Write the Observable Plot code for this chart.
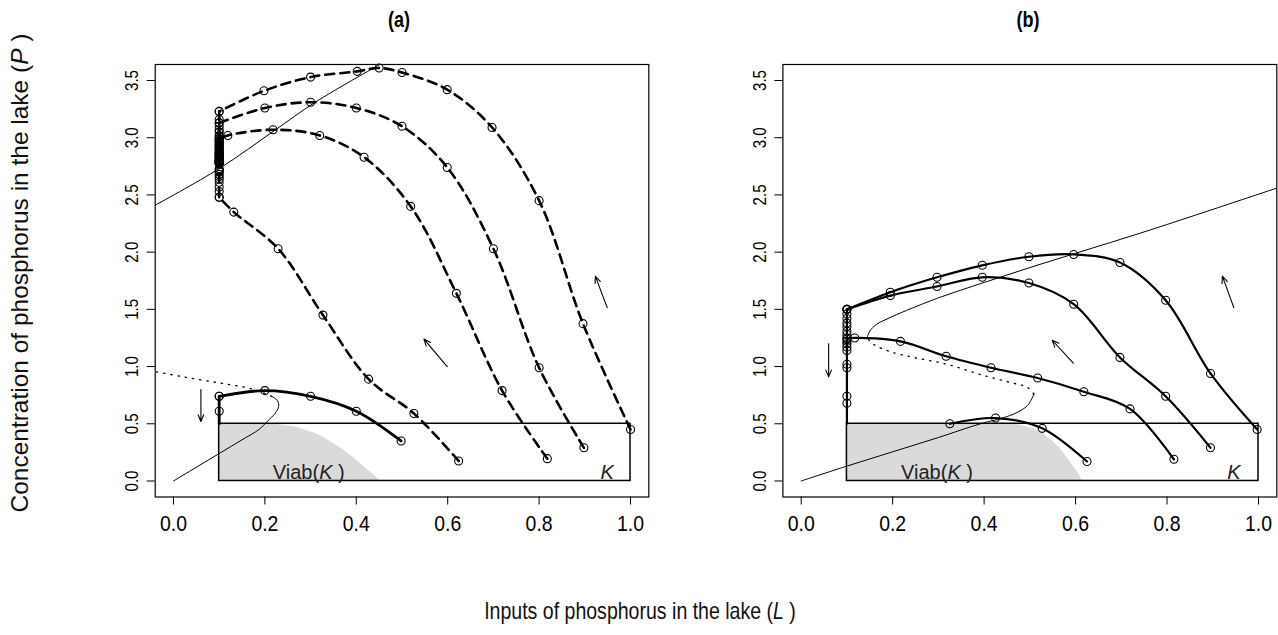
<!DOCTYPE html>
<html><head><meta charset="utf-8">
<script src="https://cdn.jsdelivr.net/npm/d3@7"></script>
<script src="https://cdn.jsdelivr.net/npm/@observablehq/plot@0.6"></script>
<style>
body{margin:0;background:#fff;}
#wrap{position:relative;width:1278px;height:635px;overflow:hidden;background:#fff;}
#wrap svg{position:absolute;top:0;max-width:none;}
</style></head><body><div id="wrap"></div>
<script>
// ---------------- shared texts & ticks ----------------
const panelTitles = ["(a)", "(b)"];
const xTicks = [0, 0.2, 0.4, 0.6, 0.8, 1.0];
const yTicks = [0, 0.5, 1.0, 1.5, 2.0, 2.5, 3.0, 3.5];
const xLabelParts = ["Inputs of phosphorus in the lake (", "L", " )"];
const yLabelParts = ["Concentration of phosphorus in the lake (", "P", " )"];
const boxK = [[0.1, 1.0, 0, 0.5]];           // L1, L2, P1, P2
const viabLabel = ["Viab(", "K", " )"];
const kLabel = "K";

// ---------------- panel (a) ----------------
const aViab = [[0.1,0.5],[0.2,0.5],[0.235,0.49],[0.27,0.47],[0.314,0.41],[0.345,0.34],[0.372,0.27],[0.395,0.20],[0.415,0.13],[0.435,0.065],[0.453,0]];
const aLowerBranch = [[0,0],[0.05,0.12],[0.1,0.24],[0.15,0.36],[0.187,0.45],[0.205,0.52],[0.222,0.59],[0.23,0.65],[0.228,0.70],[0.215,0.74]];
const aMiddleBranch = [[0.215,0.74],[0.19,0.78],[0.161,0.815],[0.096,0.86],[0.023,0.91],[-0.04,0.955]];
const aUpperBranch = [[-0.04,2.41],[0.1,2.73],[0.22,3.06],[0.31,3.31],[0.46,3.66]];
const aTraj1 = [[0.498,0.35],[0.40,0.61],[0.30,0.74],[0.20,0.79],[0.10,0.74]];
const aTraj1Down = [0.74,0.61];
const aTraj2 = [[0.624,0.175],[0.526,0.59],[0.427,0.89],[0.327,1.45],[0.229,2.03],[0.132,2.35],[0.10,2.48]];
const aTraj2Down = [2.48,2.53,2.57,2.61,2.64,2.66,2.68,2.70,2.71,2.72,2.73];
const aTraj3 = [[0.818,0.195],[0.719,0.79],[0.619,1.64],[0.519,2.40],[0.417,2.83],[0.32,3.02],[0.218,3.07],[0.119,3.02],[0.10,2.99]];
const aTraj3Down = [2.99,2.96,2.93,2.90,2.87,2.85,2.83,2.81,2.79,2.78];
const aTraj4 = [[0.898,0.29],[0.80,0.99],[0.70,2.03],[0.599,2.74],[0.50,3.10],[0.40,3.26],[0.30,3.31],[0.20,3.26],[0.10,3.13]];
const aTraj4Down = [3.13,3.07,3.02,2.98,2.95,2.92,2.89,2.87,2.85,2.83,2.81,2.80,2.79,2.78];
const aTraj5 = [[1.0,0.45],[0.896,1.375],[0.80,2.45],[0.697,3.09],[0.599,3.42],[0.50,3.57],[0.45,3.61],[0.402,3.58],[0.30,3.53],[0.198,3.41],[0.10,3.23]];
const aTraj5Down = [3.23,3.16,3.10,3.05,3.01,2.97,2.94,2.91,2.88,2.86,2.84,2.82,2.80,2.79,2.78,2.77];
const aArrows = [[0.06,0.80,0.06,0.52],[0.599,1.0,0.548,1.24],[0.949,1.515,0.923,1.79]];
const aViabPos = [0.296, 0.07];
const aKPos = [0.949, 0.07];

// ---------------- panel (b) ----------------
const bViab = [[0.1,0.5],[0.44,0.5],[0.475,0.49],[0.505,0.46],[0.53,0.41],[0.55,0.35],[0.567,0.28],[0.582,0.20],[0.597,0.12],[0.607,0.06],[0.614,0]];
const bLowerBranch = [[0,0],[0.1,0.13],[0.2,0.255],[0.3,0.38],[0.392,0.50],[0.44,0.55],[0.47,0.595],[0.495,0.66],[0.509,0.76]];
const bMiddleBranch = [[0.509,0.76],[0.494,0.82],[0.458,0.86],[0.392,0.93],[0.319,1.02],[0.246,1.08],[0.195,1.13],[0.16,1.19],[0.144,1.25]];
const bUpperBranch = [[0.144,1.25],[0.15,1.31],[0.165,1.37],[0.19,1.42],[0.23,1.49],[0.3,1.60],[0.4,1.735],[0.5,1.865],[0.6,1.99],[0.764,2.195],[1.04,2.56]];
const bTraj1 = [[0.625,0.17],[0.527,0.46],[0.425,0.55],[0.325,0.50]];
const bTraj2 = [[0.815,0.19],[0.719,0.63],[0.618,0.78],[0.517,0.90],[0.415,0.99],[0.317,1.09],[0.217,1.22],[0.117,1.25],[0.10,1.24]];
const bTraj3 = [[0.895,0.29],[0.797,0.74],[0.697,1.08],[0.596,1.545],[0.498,1.73],[0.396,1.78],[0.297,1.70],[0.195,1.62],[0.10,1.50]];
const bTraj4 = [[0.997,0.45],[0.895,0.94],[0.797,1.58],[0.697,1.91],[0.596,1.98],[0.498,1.96],[0.396,1.885],[0.297,1.78],[0.195,1.65],[0.10,1.50]];
const bColumn = [1.50,1.46,1.42,1.38,1.35,1.31,1.28,1.25,1.22,1.20,1.17,1.14,1.02,0.99,0.74,0.68];
const bArrows = [[0.06,1.20,0.06,0.91],[0.595,1.03,0.549,1.23],[0.946,1.515,0.921,1.79]];
const bViabPos = [0.297, 0.07];
const bKPos = [0.946, 0.07];

// ---------------- helpers ----------------
const Lmin = boxK[0][0];
const pts = (arr) => arr.map(([L, P]) => ({L, P}));
const col = (arr) => arr.map(P => ({L: Lmin, P}));
const arrowsOf = (arr) => arr.map(([x1,y1,x2,y2]) => ({x1,y1,x2,y2}));
const FONT = "'Liberation Sans', Arial, sans-serif";

function panel({width, ml, mr, viab, lower, middle, upper, trajs, colLines, dots, dashed, arrows, viabPos, kPos, solidExtra}) {
  const lineStyle = dashed ? {strokeDasharray: "9,6", strokeWidth: 2.6} : {strokeWidth: 2.2};
  const marks = [
    Plot.areaY(pts(viab), {x: "L", y1: 0, y2: "P", fill: "#dadada"}),
    Plot.rect(boxK.map(([L1,L2,P1,P2]) => ({L1,L2,P1,P2})), {x1: "L1", x2: "L2", y1: "P1", y2: "P2", fill: "none", stroke: "black", strokeWidth: 1.5}),
    Plot.line(pts(lower), {x: "L", y: "P", stroke: "black", strokeWidth: 1, curve: "catmull-rom", clip: true}),
    Plot.line(pts(middle), {x: "L", y: "P", stroke: "black", strokeWidth: 1.3, strokeDasharray: "1.3,6", curve: "catmull-rom", clip: true}),
    Plot.line(pts(upper), {x: "L", y: "P", stroke: "black", strokeWidth: 1, curve: "catmull-rom", clip: true}),
  ];
  for (const t of trajs) marks.push(Plot.line(pts(t), {x: "L", y: "P", stroke: "black", curve: "catmull-rom", clip: true, ...lineStyle}));
  for (const c of colLines) marks.push(Plot.line(c, {x: "L", y: "P", stroke: "black", clip: true, ...lineStyle}));
  if (solidExtra) {
    marks.push(Plot.line(pts(solidExtra.traj), {x: "L", y: "P", stroke: "black", strokeWidth: 2.8, curve: "catmull-rom"}));
    marks.push(Plot.line(solidExtra.col, {x: "L", y: "P", stroke: "black", strokeWidth: 2.8}));
  }
  marks.push(Plot.dot(dots, {x: "L", y: "P", r: 4, stroke: "black", strokeWidth: 1.1, fill: "none"}));
  marks.push(Plot.arrow(arrowsOf(arrows), {x1: "x1", y1: "y1", x2: "x2", y2: "y2", stroke: "black", strokeWidth: 1.1, headLength: 10, headAngle: 45}));
  marks.push(Plot.text([{L: viabPos[0], P: viabPos[1], t: viabLabel.join("")}], {x: "L", y: "P", text: "t", fontSize: 20, fontFamily: FONT, fill: "#222"}));
  marks.push(Plot.text([{L: kPos[0], P: kPos[1], t: kLabel}], {x: "L", y: "P", text: "t", fontSize: 20, fontStyle: "italic", fontFamily: FONT, fill: "#222"}));
  marks.push(Plot.frame({stroke: "black", strokeWidth: 1.2}));
  marks.push(Plot.axisX({ticks: xTicks, tickSize: 8, tickPadding: 10, tickFormat: d => d.toFixed(1), fontSize: 22, fontFamily: FONT, stroke: "black"}));
  marks.push(Plot.axisY({ticks: yTicks, tickSize: 8, tickPadding: 9, tickRotate: -90, tickFormat: d => d.toFixed(1), fontSize: 18, fontFamily: FONT, stroke: "black"}));
  const svg = Plot.plot({
    width, height: 635,
    marginLeft: ml, marginRight: mr, marginTop: 64, marginBottom: 138.5,
    x: {domain: [-0.04, 1.04], label: null},
    y: {domain: [-0.14, 3.64], label: null},
    style: {background: "transparent", color: "black", fontFamily: FONT, overflow: "visible"},
    marks
  });
  const s = d3.select(svg);
  // italic K inside Viab(K)
  s.selectAll("text").filter(function() { return this.textContent === viabLabel.join(""); }).each(function() {
    const t = d3.select(this); t.text(null);
    t.append("tspan").text(viabLabel[0]);
    t.append("tspan").attr("font-style", "italic").text(viabLabel[1]);
    t.append("tspan").text(viabLabel[2]);
  });
  // condensed tick labels like the reference
  s.selectAll('g[aria-label="x-axis tick label"] text').attr("textLength", 27).attr("lengthAdjust", "spacingAndGlyphs");
  s.selectAll('g[aria-label="y-axis tick label"] text').attr("textLength", 21).attr("lengthAdjust", "spacingAndGlyphs");
  return svg;
}

const wrap = document.getElementById("wrap");

const aColLines = [col(aTraj2Down), col(aTraj3Down), col(aTraj4Down), col(aTraj5Down)];
const aDots = [aTraj1, aTraj2, aTraj3, aTraj4, aTraj5].flatMap(pts).concat([aTraj1Down, aTraj2Down, aTraj3Down, aTraj4Down, aTraj5Down].flatMap(col));
const svgA = panel({width: 660, ml: 154.7, mr: 11.7, viab: aViab, lower: aLowerBranch, middle: aMiddleBranch, upper: aUpperBranch,
  trajs: [aTraj2, aTraj3, aTraj4, aTraj5], colLines: aColLines, dots: aDots, dashed: true, arrows: aArrows, viabPos: aViabPos, kPos: aKPos,
  solidExtra: {traj: aTraj1, col: [...col(aTraj1Down), {L: Lmin, P: boxK[0][3]}]}});
svgA.style.left = "0px";
wrap.appendChild(svgA);

const bColLine = [...col(bColumn), {L: Lmin, P: boxK[0][3]}];
const bDots = [bTraj1, bTraj2, bTraj3, bTraj4].flatMap(pts).concat(col(bColumn));
const svgB = panel({width: 618, ml: 122.4, mr: 1.7, viab: bViab, lower: bLowerBranch, middle: bMiddleBranch, upper: bUpperBranch,
  trajs: [bTraj1, bTraj2, bTraj3, bTraj4], colLines: [bColLine], dots: bDots, dashed: false, arrows: bArrows, viabPos: bViabPos, kPos: bKPos});
svgB.style.left = "660px";
wrap.appendChild(svgB);

// ---------------- overlay: titles and axis labels ----------------
const ov = d3.select(wrap).append("svg").attr("width", 1278).attr("height", 635).style("left", "0px").style("pointer-events", "none");
const titleX = [399, 1028];
panelTitles.forEach((t, i) => ov.append("text").attr("transform", `translate(${titleX[i]},27) scale(0.82,1)`).attr("text-anchor", "middle")
  .attr("font-family", FONT).attr("font-weight", "bold").attr("font-size", 22).text(t));
const xl = ov.append("text").attr("transform", "translate(640,619) scale(0.85,1)").attr("text-anchor", "middle").attr("font-family", FONT).attr("font-size", 23)
  .attr("fill", "#111");
xl.append("tspan").text(xLabelParts[0]); xl.append("tspan").attr("font-style", "italic").text(xLabelParts[1]); xl.append("tspan").text(xLabelParts[2]);
const yl = ov.append("text").attr("transform", "translate(28,273) rotate(-90) scale(1.02,1)").attr("text-anchor", "middle").attr("font-family", FONT).attr("font-size", 24)
  .attr("fill", "#111");
yl.append("tspan").text(yLabelParts[0]); yl.append("tspan").attr("font-style", "italic").text(yLabelParts[1]); yl.append("tspan").text(yLabelParts[2]);
</script></body></html>
